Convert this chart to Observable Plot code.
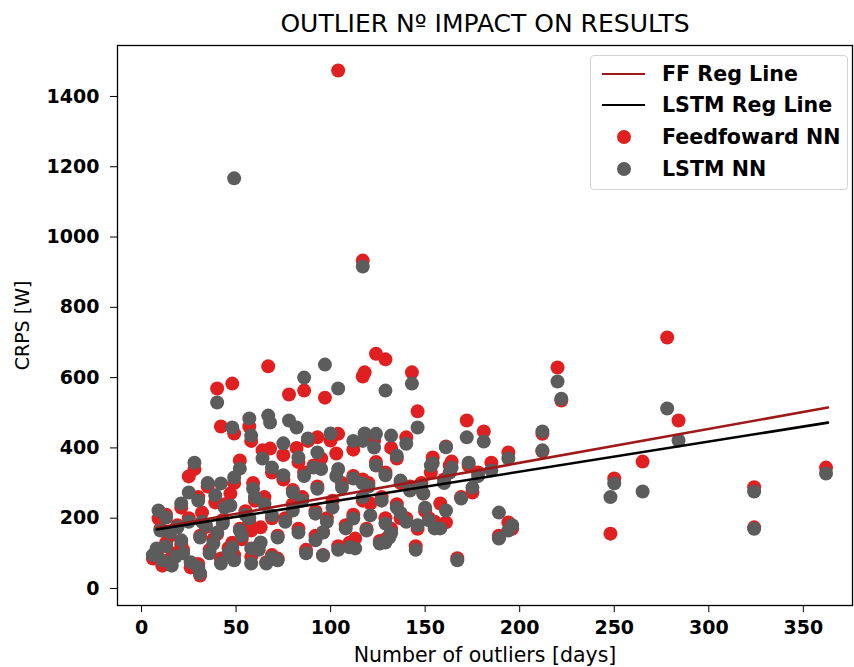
<!DOCTYPE html>
<html><head><meta charset="utf-8">
<script src="https://cdn.jsdelivr.net/npm/d3@7"></script>
<script src="https://cdn.jsdelivr.net/npm/@observablehq/plot@0.6"></script>
<style>
body{margin:0;background:#fff;font-family:"DejaVu Sans",sans-serif;}
#wrap{position:relative;width:854px;height:667px;}
#legend{position:absolute;left:590px;top:55px;width:258px;height:135px;border:1px solid #d4d4d4;border-radius:4px;background:rgba(255,255,255,0.85);box-sizing:border-box;}
.row{position:absolute;left:0;height:26px;width:256px;}
.sw-line{position:absolute;left:11px;width:43px;height:0;top:12px;border-top-width:2.5px;border-top-style:solid;}
.sw-dot{position:absolute;left:26px;top:6px;width:14px;height:14px;border-radius:50%;}
.lab{position:absolute;left:71px;top:0;font-weight:bold;font-size:20.6px;line-height:26px;color:#000;white-space:nowrap;}
</style>
</head><body>
<div id="wrap"><div id="chart"></div><div id="legend"></div></div>
<script>
const outliers = [104,49,117,124,129,118,117,67,97,86,
78,104,40,48,143,146,220,222,172,181,
194,212,212,278,284,265,250,248,324,324,
362,42,49,57,58,64,28,52,25,39,
59,47,21,13,9,32,8,6,11,16,
30,31,42,49,58,63,43,52,31,21,
38,48,58,22,46,19,10,40,68,75,
82,88,93,100,103,83,123,132,140,135,
161,154,164,173,185,175,189,194,189,167,
161,158,152,169,132,135,142,137,149,153,
163,69,75,91,112,124,129,80,93,106,
117,69,80,92,101,112,121,129,131,108,
96,92,83,72,69,72,87,96,110,113,
126,66,129,119,146,150,140,145,155,60,
55,65,35,30,15,25,36,26,13,53,
62,76,85,98,104,117,127,137,148,160,
178,196,44,34,18,57,86,112,120,95];

const ffCrps = [1474,300,933,668,652,615,603,632,543,563,
552,440,569,583,615,504,629,535,478,447,
387,440,390,714,478,361,313,156,288,174,
344,461,441,461,420,393,340,364,319,245,
300,270,230,210,199,216,100,85,65,90,
70,37,85,95,90,174,195,170,150,125,
140,130,165,110,115,180,170,155,398,380,
400,420,430,421,384,360,421,400,430,370,
404,373,361,350,358,273,145,188,150,86,
188,242,200,260,170,240,290,300,270,330,
350,330,310,350,320,360,330,280,290,300,
310,200,240,220,250,210,242,200,150,180,
160,150,170,150,95,85,110,95,130,142,
135,75,140,170,170,220,200,120,190,250,
220,260,290,260,150,200,110,60,130,140,
120,200,260,200,120,250,260,200,300,310,
330,170,240,175,100,190,330,395,300,370];

const lstmCrps = [340,1167,916,440,563,441,420,492,637,600,
478,569,529,458,583,458,589,540,430,418,
370,447,393,512,421,276,299,260,276,170,
327,299,316,484,435,370,358,341,273,265,
284,236,242,202,222,190,114,95,80,65,
60,43,71,80,71,131,185,165,145,137,
128,117,114,100,100,174,165,159,472,413,
458,427,387,441,320,373,401,435,412,378,
402,356,344,358,336,287,216,165,142,80,
222,171,194,256,157,230,279,307,270,350,
330,344,322,344,313,350,322,273,284,287,
299,208,222,213,230,199,208,185,145,171,
159,137,159,145,88,80,100,94,117,114,
128,71,131,165,180,230,190,110,171,260,
210,240,300,250,160,190,100,75,120,150,
110,190,250,190,110,260,250,215,290,300,
320,180,230,180,90,200,320,420,290,340];

// regression line end points
const regX = [8, 363];
const ffRegY = [172, 515];
const lstmRegY = [168, 472];

const xTicks = [0,50,100,150,200,250,300,350];
const yTicks = [0,200,400,600,800,1000,1200,1400];

const seriesNames = ["FF Reg Line","LSTM Reg Line","Feedfoward NN","LSTM NN"];
const seriesColors = ["#9e1a1a","#000000","#e02020","#5c5c5c"];

const n = Math.min(outliers.length, ffCrps.length, lstmCrps.length);
const pts = d3.range(n).map(i => ({x: outliers[i], ff: ffCrps[i], lstm: lstmCrps[i]}));
const ffLine = regX.map((x,i)=>({x, y: ffRegY[i]}));
const lstmLine = regX.map((x,i)=>({x, y: lstmRegY[i]}));

const chart = Plot.plot({
  width: 854, height: 667,
  marginLeft: 117, marginRight: 2, marginTop: 45, marginBottom: 62,
  style: {fontFamily: "DejaVu Sans, sans-serif", color: "#000", background: "#fff"},
  x: {domain: [-12.7, 376]},
  y: {domain: [-48.4, 1545]},
  marks: [
    Plot.dot(pts, {x: "x", y: "ff", r: 7, fill: seriesColors[2]}),
    Plot.dot(pts, {x: "x", y: "lstm", r: 7, fill: seriesColors[3]}),
    Plot.line(ffLine, {x: "x", y: "y", stroke: seriesColors[0], strokeWidth: 2.6}),
    Plot.line(lstmLine, {x: "x", y: "y", stroke: seriesColors[1], strokeWidth: 2.6}),
    Plot.frame({stroke: "#000", strokeWidth: 1.3}),
    Plot.axisX({ticks: xTicks, tickSize: 7, tickPadding: 8, fontSize: 19, fontWeight: "bold", label: null, tickFormat: d => String(d)}),
    Plot.axisY({ticks: yTicks, tickSize: 7, tickPadding: 11, fontSize: 19, fontWeight: "bold", label: null, tickFormat: d => String(d)}),
    Plot.text(["Number of outliers [days]"], {frameAnchor: "bottom", lineAnchor: "middle", textAnchor: "middle", dy: 50, fontSize: 20.5, fill: "#000"}),
    Plot.text(["CRPS [W]"], {frameAnchor: "left", lineAnchor: "middle", textAnchor: "middle", dx: -95, rotate: -90, fontSize: 19, fill: "#000"}),
    Plot.text(["OUTLIER Nº IMPACT ON RESULTS"], {frameAnchor: "top", lineAnchor: "middle", textAnchor: "middle", dy: -22, fontSize: 25, fill: "#000"})
  ]
});
document.getElementById("chart").appendChild(chart);

const legend = document.getElementById("legend");
const rowsTop = [5, 36, 68, 100];
seriesNames.forEach((name, i) => {
  const row = document.createElement("div");
  row.className = "row";
  row.style.top = rowsTop[i] + "px";
  const sw = document.createElement("div");
  if (i < 2) { sw.className = "sw-line"; sw.style.borderTopColor = seriesColors[i]; }
  else { sw.className = "sw-dot"; sw.style.background = seriesColors[i]; }
  const lab = document.createElement("div");
  lab.className = "lab";
  lab.textContent = name;
  row.appendChild(sw); row.appendChild(lab);
  legend.appendChild(row);
});
</script>
</body></html>
